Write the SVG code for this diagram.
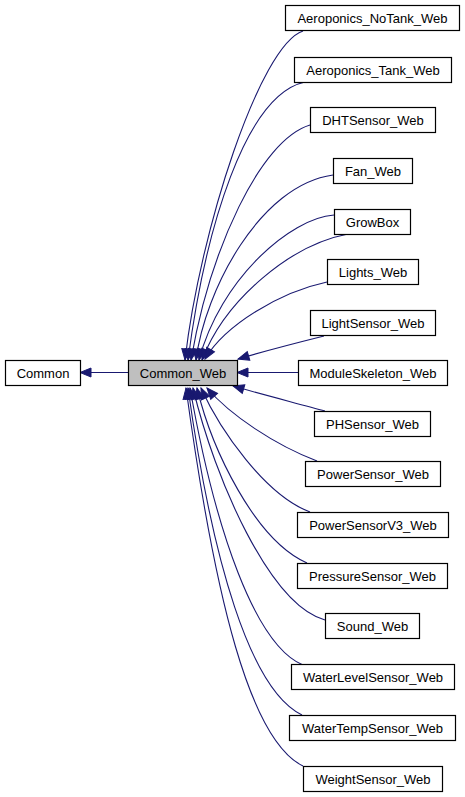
<svg xmlns="http://www.w3.org/2000/svg" width="465" height="797" viewBox="0 0 465 797">
<style>
.n rect{fill:#fff;stroke:#000;stroke-width:1.2}
.n text{font-family:"Liberation Sans",Arial,sans-serif;font-size:13px;fill:#000;text-anchor:middle}
#e path{fill:none;stroke:#191970;stroke-width:1.1;marker-end:url(#ah)}
</style>
<defs>
<marker id="ah" markerUnits="userSpaceOnUse" markerWidth="14" markerHeight="12" refX="12" refY="5.5" orient="auto">
<path d="M1,1 L12,5.5 L1,10 z" fill="#191970" stroke="#191970" stroke-width="1"/>
</marker>
</defs>
<rect width="465" height="797" fill="#fff"/>
<g id="e">
<path d="M128,372.5 L80,372.5"/>
<path d="M303,31 C260,45 200,230 185,360"/>
<path d="M305,82 C245,95 205,230 188,360"/>
<path d="M310,125 C260,140 210,250 191,360"/>
<path d="M333,175 C260,185 205,290 196,360"/>
<path d="M334,215 C290,218 220,280 199,360"/>
<path d="M348,234 C290,245 225,300 202,360"/>
<path d="M327,282 C280,292 225,325 205,359"/>
<path d="M324,336 C300,342 265,351 238,359"/>
<path d="M298,372.5 L237,372.5"/>
<path d="M325,411 C300,404 260,394 233,386"/>
<path d="M317,461 C275,445 230,415 207,388"/>
<path d="M310,512 C265,495 220,430 201,388"/>
<path d="M307,563 C255,540 212,450 197,388"/>
<path d="M325,620 C270,605 215,480 193,388"/>
<path d="M303,665 C255,645 215,530 190,388"/>
<path d="M302,715 C250,690 212,560 188,388"/>
<path d="M303,766 C250,740 215,600 186,388"/>
</g>
<g id="Common" class="n"><rect x="5.5" y="360.5" width="75" height="25"/><text x="43" y="377.5">Common</text></g>
<g id="Common_Web" class="n"><rect x="128.5" y="360.5" width="109" height="25" style="fill:#bfbfbf"/><text x="183" y="377.5">Common_Web</text></g>
<g id="Aeroponics_NoTank_Web" class="n"><rect x="285.5" y="5.5" width="174" height="25"/><text x="372.5" y="22.5">Aeroponics_NoTank_Web</text></g>
<g id="Aeroponics_Tank_Web" class="n"><rect x="294.5" y="57.5" width="157" height="25"/><text x="373" y="74.5">Aeroponics_Tank_Web</text></g>
<g id="DHTSensor_Web" class="n"><rect x="310.5" y="107.5" width="125" height="25"/><text x="373" y="124.5">DHTSensor_Web</text></g>
<g id="Fan_Web" class="n"><rect x="333.5" y="158.5" width="79" height="25"/><text x="373" y="175.5">Fan_Web</text></g>
<g id="GrowBox" class="n"><rect x="334.5" y="209.5" width="76" height="25"/><text x="372.5" y="226.5">GrowBox</text></g>
<g id="Lights_Web" class="n"><rect x="327.5" y="259.5" width="91" height="25"/><text x="373" y="276.5">Lights_Web</text></g>
<g id="LightSensor_Web" class="n"><rect x="310.5" y="310.5" width="125" height="25"/><text x="373" y="327.5">LightSensor_Web</text></g>
<g id="ModuleSkeleton_Web" class="n"><rect x="298.5" y="360.5" width="149" height="25"/><text x="373" y="377.5">ModuleSkeleton_Web</text></g>
<g id="PHSensor_Web" class="n"><rect x="314.5" y="411.5" width="116" height="25"/><text x="372.5" y="428.5">PHSensor_Web</text></g>
<g id="PowerSensor_Web" class="n"><rect x="305.5" y="461.5" width="135" height="25"/><text x="373" y="478.5">PowerSensor_Web</text></g>
<g id="PowerSensorV3_Web" class="n"><rect x="297.5" y="512.5" width="151" height="25"/><text x="373" y="529.5">PowerSensorV3_Web</text></g>
<g id="PressureSensor_Web" class="n"><rect x="297.5" y="563.5" width="150" height="25"/><text x="372.5" y="580.5">PressureSensor_Web</text></g>
<g id="Sound_Web" class="n"><rect x="325.5" y="613.5" width="94" height="25"/><text x="372.5" y="630.5">Sound_Web</text></g>
<g id="WaterLevelSensor_Web" class="n"><rect x="291.5" y="664.5" width="163" height="25"/><text x="373" y="681.5">WaterLevelSensor_Web</text></g>
<g id="WaterTempSensor_Web" class="n"><rect x="289.5" y="715.5" width="166" height="25"/><text x="372.5" y="732.5">WaterTempSensor_Web</text></g>
<g id="WeightSensor_Web" class="n"><rect x="303.5" y="766.5" width="139" height="25"/><text x="373" y="783.5">WeightSensor_Web</text></g>
</svg>
